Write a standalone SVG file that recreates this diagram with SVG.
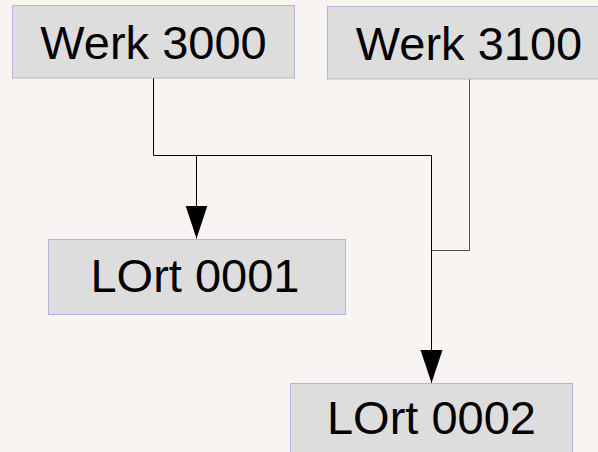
<svg xmlns="http://www.w3.org/2000/svg" width="598" height="452" viewBox="0 0 598 452">
<style>
.box{fill:#dddddd;stroke:#b4b4dc;stroke-width:1}
.lbl{font-family:"Liberation Sans",Arial,sans-serif;font-size:47px;fill:#000;text-anchor:middle}
.ln{fill:none;stroke:#000;stroke-width:1}
.ln2{fill:none;stroke:#555;stroke-width:1}
</style>
<defs>
<marker id="arr" markerUnits="userSpaceOnUse" markerWidth="34" markerHeight="24" refX="33" refY="11" orient="auto" viewBox="0 0 34 22">
<polygon points="0,0 33,11 0,22" fill="#000"/>
</marker>
</defs>
<rect width="598" height="452" fill="#f8f4f2"/>
<g id="connectors">
<path class="ln" d="M153.5,78 V155.5 H431.5"/>
<path class="ln" d="M196.5,155.5 V238.5" marker-end="url(#arr)"/>
<path class="ln" d="M431.5,155.5 V383" marker-end="url(#arr)"/>
<path class="ln2" d="M469.5,79 V250.5 H431.5"/>
</g>
<g id="werk3000">
<rect class="box" x="12.5" y="5.5" width="282" height="72.5"/>
<text class="lbl" x="153.5" y="59">Werk 3000</text>
</g>
<g id="werk3100">
<rect class="box" x="327.5" y="6.5" width="284" height="72.5"/>
<text class="lbl" x="469" y="60">Werk 3100</text>
</g>
<g id="lort0001">
<rect class="box" x="48.5" y="239.5" width="297" height="75"/>
<text class="lbl" x="195" y="292">LOrt 0001</text>
</g>
<g id="lort0002">
<rect class="box" x="290.5" y="383.5" width="282" height="75"/>
<text class="lbl" x="431.5" y="434">LOrt 0002</text>
</g>
</svg>
